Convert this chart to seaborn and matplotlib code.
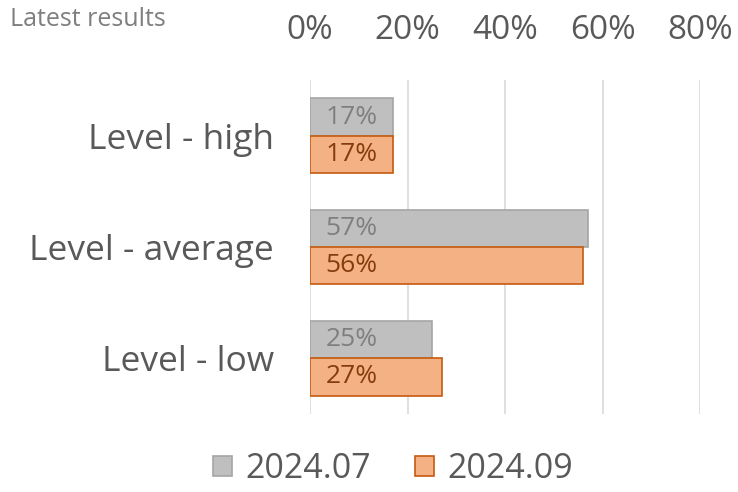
import pandas as pd
import matplotlib.pyplot as plt
import seaborn as sns
from matplotlib.patches import Patch

# Data
categories = ['Level - high', 'Level - average', 'Level - low']
series = ['2024.07', '2024.09']
values_jul = [17, 57, 25]
values_sep = [17, 56, 27]
ticks = [0, 20, 40, 60, 80]

df = pd.DataFrame({
    'level': categories * 2,
    'period': [series[0]] * 3 + [series[1]] * 3,
    'value': values_jul + values_sep,
})

face = {'2024.07': '#BFBFBF', '2024.09': '#F4B183'}
edge = {'2024.07': '#A5A5A5', '2024.09': '#C55A11'}
txt = {'2024.07': '#7F7F7F', '2024.09': '#843C0C'}

sns.set_style('white')
plt.rcParams['font.family'] = ['Open Sans', 'DejaVu Sans']

fig = plt.figure(figsize=(7.38, 4.92), dpi=100)
ax = fig.add_axes([310 / 738, 1 - 414 / 492, 390 / 738, 334 / 492])

sns.barplot(data=df, y='level', x='value', hue='period', order=categories,
            hue_order=series, palette=face, orient='h', width=0.67,
            saturation=1, ax=ax, legend=False)

# edges and labels per series
for cont, name in zip(ax.containers, series):
    for bar in cont:
        bar.set_edgecolor(edge[name])
        bar.set_linewidth(1.2)
        ax.text(bar.get_x() + 3.2, bar.get_y() + bar.get_height() / 2,
                f'{bar.get_width():.0f}%', va='center', ha='left',
                fontsize=19, color=txt[name])

ax.set_xlim(0, 80)
ax.set_xticks(ticks)
ax.set_xticklabels([f'{t}%' for t in ticks])
ax.xaxis.tick_top()
ax.tick_params(axis='x', length=0, pad=24, labelsize=24, labelcolor='#595959')
ax.tick_params(axis='y', length=0, pad=26, labelsize=25.5, labelcolor='#595959')
ax.grid(axis='x', color='#D9D9D9', linewidth=1.2)
ax.set_axisbelow(True)
ax.set_xlabel('')
ax.set_ylabel('')
for s in ax.spines.values():
    s.set_visible(False)

fig.text(10 / 738, 1 - 20 / 492, 'Latest results', fontsize=18,
         color='#7F7F7F', va='center', ha='left')

handles = [Patch(facecolor=face[n], edgecolor=edge[n], linewidth=1.2) for n in series]
fig.legend(handles, series, loc='center', bbox_to_anchor=(393 / 738, 1 - 469 / 492),
           ncol=2, frameon=False, fontsize=24.5, labelcolor='#595959',
           handlelength=0.55, handleheight=0.55, handletextpad=0.4, columnspacing=1.3)

fig.savefig('out.png', dpi=100)
